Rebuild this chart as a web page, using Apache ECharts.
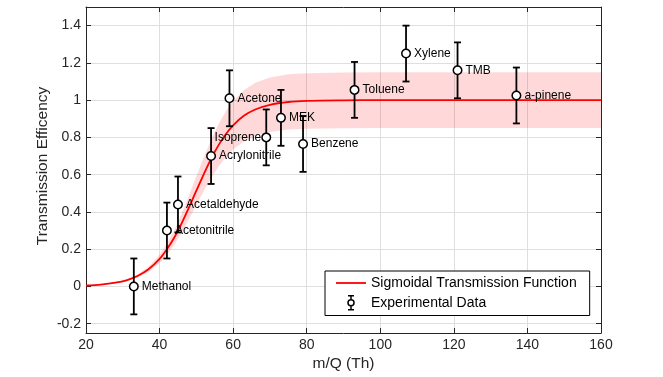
<!DOCTYPE html>
<html>
<head>
<meta charset="utf-8">
<script src="https://cdn.jsdelivr.net/npm/echarts@6/dist/echarts.min.js"></script>
<style>
  html, body { margin: 0; padding: 0; background: #fff; }
  #chart { width: 663px; height: 377px; }
</style>
</head>
<body>
<div id="chart"></div>
<script>
// ---- Data ----
const compounds = ['Methanol', 'Acetonitrile', 'Acetaldehyde', 'Acrylonitrile', 'Acetone', 'Isoprene', 'MEK', 'Benzene', 'Toluene', 'Xylene', 'TMB', 'a-pinene'];
const massToCharge = [33, 42, 45, 54, 59, 69, 73, 79, 93, 107, 121, 137];
const transmission = [0.00, 0.30, 0.44, 0.70, 1.01, 0.80, 0.905, 0.765, 1.055, 1.25, 1.16, 1.025];
const errors = [0.15, 0.15, 0.15, 0.15, 0.15, 0.15, 0.15, 0.15, 0.15, 0.15, 0.15, 0.15];

const curveX = [20, 24, 28, 31, 34, 37, 40, 42, 44, 46, 48, 50, 52, 54, 56, 58, 60, 63, 66, 70, 75, 80, 90, 100, 120, 140, 160];
const curveY = [0.005, 0.010, 0.020, 0.033, 0.056, 0.092, 0.148, 0.200, 0.263, 0.339, 0.424, 0.514, 0.602, 0.685, 0.757, 0.817, 0.865, 0.917, 0.950, 0.975, 0.990, 0.996, 0.999, 1.000, 1.000, 1.000, 1.000];
const bandHigh = [0.006, 0.011, 0.023, 0.038, 0.064, 0.106, 0.170, 0.230, 0.302, 0.390, 0.488, 0.591, 0.692, 0.788, 0.871, 0.940, 0.995, 1.055, 1.093, 1.121, 1.139, 1.145, 1.149, 1.150, 1.150, 1.150, 1.150];
const bandLow = [0.004, 0.008, 0.017, 0.028, 0.048, 0.078, 0.126, 0.170, 0.224, 0.288, 0.360, 0.437, 0.512, 0.582, 0.643, 0.694, 0.735, 0.779, 0.808, 0.829, 0.842, 0.847, 0.849, 0.850, 0.850, 0.850, 0.850];

const xTicks = [20, 40, 60, 80, 100, 120, 140, 160];
const yTicks = [-0.2, 0, 0.2, 0.4, 0.6, 0.8, 1, 1.2, 1.4];

const curveName = 'Sigmoidal Transmission Function';
const dataName = 'Experimental Data';

// ---- Build series data ----
const lineData = curveX.map((x, i) => [x, curveY[i]]);
const bandData = curveX.map((x, i) => [x, bandLow[i], bandHigh[i]]);
const errData = massToCharge.map((x, i) => [x, transmission[i], errors[i]]);
const ptData = massToCharge.map((x, i) => {
  const item = { value: [x, transmission[i]], name: compounds[i] };
  if (compounds[i] === 'Isoprene') item.label = { position: 'left', distance: 0 };
  if (compounds[i] === 'MEK') item.label = { offset: [0, -4] };
  return item;
});

const FONT = 'Liberation Sans, Arial, Helvetica, sans-serif';
const AX = '#262626';
const GRIDC = '#dfdfdf';

const chart = echarts.init(document.getElementById('chart'), null, { renderer: 'canvas' });
chart.setOption({
  animation: false,
  backgroundColor: '#fff',
  textStyle: { fontFamily: FONT },
  grid: { left: 86, right: 62, top: 7, bottom: 44, containLabel: false, outerBoundsMode: 'none' },
  legend: {
    left: 325, top: 271,
    orient: 'vertical',
    backgroundColor: '#fff',
    borderColor: '#000',
    borderWidth: 1,
    borderRadius: 0,
    padding: [5, 13, 5, 11],
    itemGap: 5,
    itemWidth: 30,
    itemHeight: 14,
    selectedMode: false,
    textStyle: { fontFamily: FONT, fontSize: 14, color: '#000' },
    data: [
      {
        name: curveName,
        icon: 'path://M0,0 L30,0 L30,1.8 L0,1.8 Z',
        itemStyle: { color: '#ff0000', borderWidth: 0 }
      },
      {
        name: dataName,
        icon: 'path://M0,0 L6,0 M3,0 L3,4 M3,10 L3,14 M0,14 L6,14 M0,7 A3,3 0 1 1 6,7 A3,3 0 1 1 0,7 Z',
        itemStyle: { color: '#fff', borderColor: '#000', borderWidth: 1.5 }
      }
    ]
  },
  xAxis: [{
    type: 'value', min: 20, max: 160, interval: 20, position: 'bottom',
    name: 'm/Q (Th)', nameLocation: 'middle', nameGap: 23, nameMoveOverlap: false,
    nameTextStyle: { fontFamily: FONT, fontSize: 15.5, color: AX },
    axisLine: { show: true, onZero: false, lineStyle: { color: AX, width: 1 } },
    axisTick: { show: true, inside: true, length: 5, lineStyle: { color: AX } },
    axisLabel: { show: true, margin: 5, fontFamily: FONT, fontSize: 14, color: AX, hideOverlap: false, showMinLabel: true, showMaxLabel: true },
    splitLine: { show: true, lineStyle: { color: GRIDC, width: 1 } }
  }, {
    type: 'value', min: 20, max: 160, interval: 20, position: 'top',
    axisLine: { show: true, onZero: false, lineStyle: { color: AX, width: 1 } },
    axisTick: { show: true, inside: true, length: 5, lineStyle: { color: AX } },
    axisLabel: { show: false },
    splitLine: { show: false }
  }],
  yAxis: [{
    type: 'value', min: -0.25, max: 1.5, position: 'left',
    name: 'Transmission Efficency', nameLocation: 'middle', nameGap: 35, nameMoveOverlap: false,
    nameTextStyle: { fontFamily: FONT, fontSize: 15.5, color: AX, padding: [0, 0, 0, 8] },
    axisLine: { show: true, onZero: false, lineStyle: { color: AX, width: 1 } },
    axisTick: { show: true, inside: true, length: 5, lineStyle: { color: AX }, customValues: yTicks },
    axisLabel: {
      show: true, margin: 5, fontFamily: FONT, fontSize: 14, color: AX, customValues: yTicks,
      formatter: v => String(+(+v).toFixed(1))
    },
    splitLine: { show: true, lineStyle: { color: GRIDC, width: 1 } }
  }, {
    type: 'value', min: -0.25, max: 1.5, position: 'right',
    axisLine: { show: true, onZero: false, lineStyle: { color: AX, width: 1 } },
    axisTick: { show: true, inside: true, length: 5, lineStyle: { color: AX }, customValues: yTicks },
    axisLabel: { show: false, customValues: yTicks },
    splitLine: { show: false }
  }],
  series: [
    {
      name: 'band', type: 'custom', data: bandData, silent: true, z: 1,
      encode: { x: 0, y: [1, 2] },
      renderItem: function (params, api) {
        if (params.dataIndex !== 0) return null;
        const pts = [];
        for (let i = 0; i < bandData.length; i++) pts.push(api.coord([bandData[i][0], bandData[i][2]]));
        for (let i = bandData.length - 1; i >= 0; i--) pts.push(api.coord([bandData[i][0], bandData[i][1]]));
        return {
          type: 'polygon',
          shape: { points: pts },
          style: { fill: 'rgba(255,0,0,0.15)', stroke: 'none' }
        };
      }
    },
    {
      name: curveName, type: 'line', data: lineData,
      smooth: 0.3, symbol: 'none', showSymbol: false, silent: true,
      itemStyle: { color: '#ff0000' },
      lineStyle: { color: '#ff0000', width: 1.8 }, z: 3
    },
    {
      name: dataName, type: 'custom', data: errData, silent: true, z: 4,
      encode: { x: 0, y: 1 },
      itemStyle: { color: '#000' },
      renderItem: function (params, api) {
        const x = api.value(0), y = api.value(1), e = api.value(2);
        const t = api.coord([x, y + e]);
        const b = api.coord([x, y - e]);
        const w = 3.5;
        const st = { stroke: '#000', lineWidth: 1.8 };
        return {
          type: 'group',
          children: [
            { type: 'line', shape: { x1: t[0], y1: t[1], x2: b[0], y2: b[1] }, style: st },
            { type: 'line', shape: { x1: t[0] - w, y1: t[1], x2: t[0] + w, y2: t[1] }, style: st },
            { type: 'line', shape: { x1: b[0] - w, y1: b[1], x2: b[0] + w, y2: b[1] }, style: st }
          ]
        };
      }
    },
    {
      name: dataName, type: 'scatter', data: ptData, silent: true, z: 5,
      symbol: 'circle', symbolSize: 8.5,
      itemStyle: { color: '#fff', borderColor: '#000', borderWidth: 1.5, opacity: 1 },
      label: {
        show: true, position: 'right', distance: 3,
        formatter: p => p.name,
        fontFamily: FONT, fontSize: 12, color: '#000'
      },
      labelLayout: { hideOverlap: false },
      emphasis: { disabled: true }
    }
  ]
});
</script>
</body>
</html>
